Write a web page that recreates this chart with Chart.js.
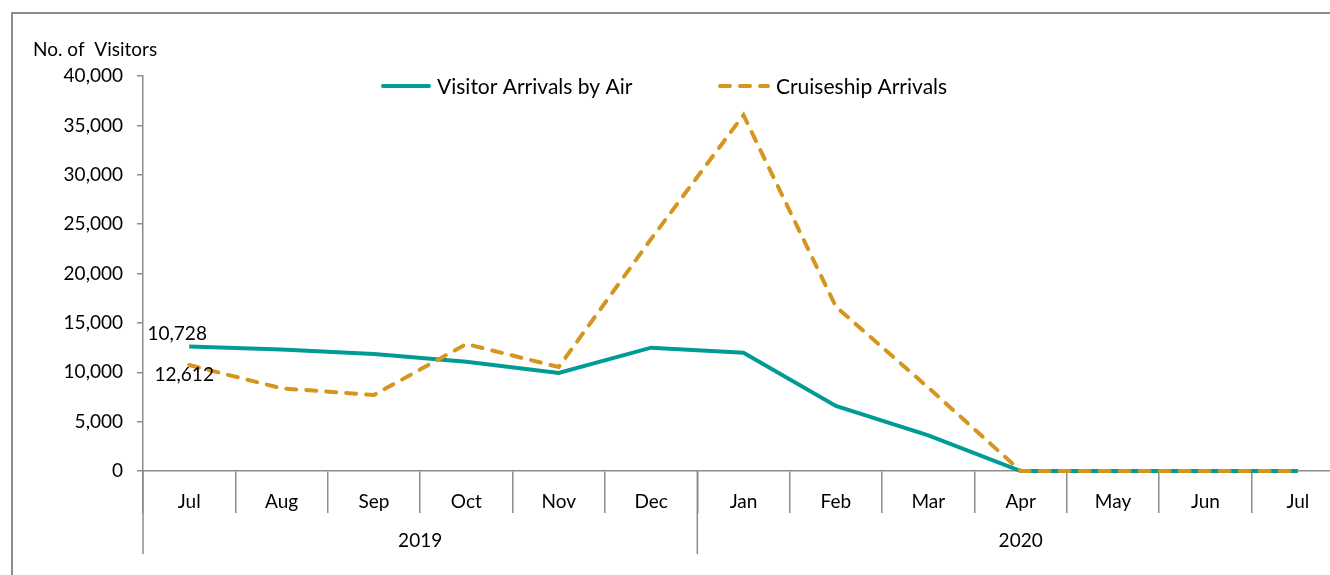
<!DOCTYPE html>
<html>
<head>
<meta charset="utf-8">
<script src="https://cdn.jsdelivr.net/npm/chart.js@4"></script>
<style>
  html, body { margin: 0; padding: 0; background: #fff; overflow: hidden; }
  #wrap { position: relative; width: 1344px; height: 575px; }
</style>
</head>
<body>
<div id="wrap"><canvas id="myChart" width="1344" height="575"></canvas></div>
<script>
// data
var months = ["Jul", "Aug", "Sep", "Oct", "Nov", "Dec", "Jan", "Feb", "Mar", "Apr", "May", "Jun", "Jul"];
var years = ["2019", "2020"];
var yearSpans = [6, 7];
var airArrivals = [12612, 12300, 11850, 11070, 9930, 12490, 11980, 6580, 3600, 0, 0, 0, 0];
var cruiseArrivals = [10728, 8370, 7700, 12860, 10530, 23500, 36050, 16640, 8450, 0, 0, 0, 0];
var firstLabels = ["10,728", "12,612"];

var FONT = "Lato, sans-serif";
var FSIZE = 19;
var GREY = '#8c8c8c';

// border, axis title, legend, year groups, first point labels
var extras = {
    id: 'extras',
    afterDraw: function (chart) {
        var c = chart.ctx;
        var x = chart.scales.x;
        var area = chart.chartArea;
        c.save();

        // outer frame
        c.strokeStyle = GREY;
        c.lineWidth = 2;
        c.strokeRect(12, 13, 1400, 700);

        // axis title
        c.fillStyle = '#000';
        c.font = FSIZE + 'px ' + FONT;
        c.textAlign = 'left';
        c.textBaseline = 'middle';
        c.fillText('No. of  Visitors', 33, 50);

        // legend
        var legendPos = [[383, 437], [720, 776]];
        chart.data.datasets.forEach(function (ds, i) {
            c.save();
            c.strokeStyle = ds.borderColor;
            c.lineWidth = 4;
            c.lineCap = 'round';
            c.setLineDash(ds.borderDash || []);
            c.beginPath();
            c.moveTo(legendPos[i][0], 86);
            c.lineTo(legendPos[i][1] - 8, 86);
            c.stroke();
            c.restore();
            c.fillStyle = '#000';
            c.font = '21px ' + FONT;
            c.fillText(ds.label, legendPos[i][1], 87);
        });

        // year groups
        var half = (x.getPixelForValue(1) - x.getPixelForValue(0)) / 2;
        var start = 0;
        c.font = FSIZE + 'px ' + FONT;
        c.strokeStyle = GREY;
        c.lineWidth = 1.5;
        c.textAlign = 'center';
        years.forEach(function (yr, i) {
            var left = x.getPixelForValue(start) - half;
            var right = x.getPixelForValue(start + yearSpans[i] - 1) + half;
            c.beginPath();
            c.moveTo(left, area.bottom);
            c.lineTo(left, 554);
            c.stroke();
            c.fillStyle = '#000';
            c.fillText(yr, (left + right) / 2, 541);
            start += yearSpans[i];
        });

        // labels on the first points
        var offs = [[-12, -13], [-5, 10]];
        chart.data.datasets.forEach(function (ds, i) {
            var pt = chart.getDatasetMeta(i).data[0];
            c.fillStyle = '#000';
            c.fillText(firstLabels[i], pt.x + offs[i][0], pt.y + offs[i][1]);
        });
        c.restore();
    }
};

var ctx = document.getElementById('myChart').getContext('2d');
var chart1 = new Chart(ctx, {
    type: 'line',
    data: {
        labels: months,
        datasets: [{
            label: "Visitor Arrivals by Air",
            data: airArrivals,
            borderColor: '#009B95',
            backgroundColor: '#009B95',
            borderWidth: 4,
            pointRadius: 0,
            tension: 0,
            clip: false,
            order: 2
        }, {
            label: "Cruiseship Arrivals",
            data: cruiseArrivals,
            borderColor: '#D4961F',
            backgroundColor: '#D4961F',
            borderWidth: 4,
            borderDash: [10, 10],
            borderCapStyle: 'round',
            pointRadius: 0,
            tension: 0,
            clip: false,
            order: 1
        }]
    },
    options: {
        responsive: false,
        animation: false,
        layout: { padding: { top: 76, left: 0, right: 0, bottom: 0 } },
        plugins: {
            legend: { display: false },
            tooltip: { enabled: false }
        },
        scales: {
            x: {
                offset: true,
                afterFit: function (s) { s.height = 104; },
                grid: {
                    offset: true,
                    drawOnChartArea: false,
                    tickLength: 42,
                    color: GREY,
                    lineWidth: 1.5
                },
                border: { color: GREY, width: 1.5 },
                ticks: {
                    padding: -23,
                    color: '#000',
                    font: { family: FONT, size: FSIZE },
                    maxRotation: 0,
                    autoSkip: false
                }
            },
            y: {
                min: 0,
                max: 40000,
                afterFit: function (s) { s.width = 143; },
                grid: {
                    drawOnChartArea: false,
                    tickLength: 6,
                    color: GREY,
                    lineWidth: 1.5
                },
                border: { color: GREY, width: 1.5 },
                ticks: {
                    stepSize: 5000,
                    padding: 14,
                    color: '#000',
                    font: { family: FONT, size: FSIZE },
                    callback: function (v) { return v.toLocaleString('en-US'); }
                }
            }
        }
    },
    plugins: [extras]
});
</script>
</body>
</html>
